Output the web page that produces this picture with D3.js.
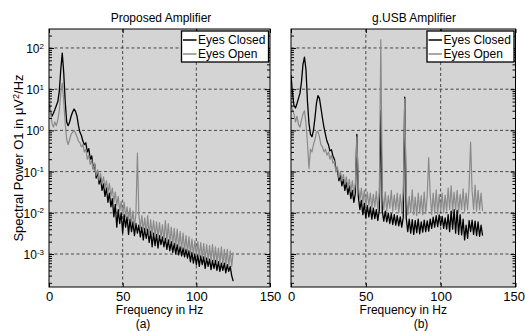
<!DOCTYPE html>
<html>
<head>
<meta charset="utf-8">
<script src="https://cdn.jsdelivr.net/npm/d3@7"></script>
<style>
html,body{margin:0;padding:0;background:#fff;}
svg{display:block;}
text{font-family:"Liberation Sans",Arial,Helvetica,sans-serif;fill:#000;}
</style>
</head>
<body>
<svg id="chart" width="525" height="331"></svg>
<script>
// ---------------- DATA ----------------
const seriesNames = ["Eyes Closed", "Eyes Open"];
const panelTitles = ["Proposed Amplifier", "g.USB Amplifier"];
const panelLetters = ["(a)", "(b)"];
const xTicks = [0, 50, 100, 150];
const yTicks = [1e-3, 1e-2, 1e-1, 1e0, 1e1, 1e2];
const yExponents = ["-3", "-2", "-1", "0", "1", "2"];
const freqStepHz = 1;

// Proposed amplifier, 0..125 Hz, 1 Hz bins (µV²/Hz)
const proposedClosed = [
 4.5,2.8,2.2,2.6,3.2,4,5,9,30,75,25,5,1.6,1.3,1.6,2.2,2.8,3.3,2.9,2.2,
 1.3,0.9,0.75,0.55,0.45,0.5,0.3,0.36,0.2,0.24,0.12,0.15,0.07,0.1,0.05,0.07,0.035,0.05,0.025,0.04,
 0.018,0.03,0.014,0.022,0.008,0.016,0.0045,0.012,0.0055,0.01,0.0032,0.009,0.0045,0.008,0.003,0.007,0.0035,0.006,0.0028,0.0055,
 0.0032,0.005,0.0026,0.0045,0.0022,0.0042,0.0024,0.004,0.0019,0.0036,0.0015,0.0032,0.0016,0.003,0.0014,0.0028,0.0017,0.0026,0.0015,0.0024,
 0.0013,0.0022,0.0012,0.002,0.0011,0.0018,0.001,0.0017,0.00095,0.0015,0.0009,0.0014,0.00085,0.0013,0.0008,0.0012,0.00065,0.0011,0.0006,0.001,
 0.00055,0.00095,0.0005,0.0009,0.00055,0.00085,0.00045,0.0008,0.0005,0.00075,0.00042,0.0007,0.00045,0.0007,0.0004,0.00065,0.00038,0.0006,0.0004,0.0006,
 0.00035,0.00055,0.00038,0.0005,0.0003,0.00022
];
const proposedOpen = [
 10,3,1.5,1.2,1.6,1.3,1.8,3,8,14,5,1.5,0.6,0.45,0.6,0.8,0.9,1.0,0.85,0.7,
 0.55,0.5,0.4,0.45,0.3,0.35,0.2,0.25,0.15,0.19,0.11,0.16,0.08,0.11,0.06,0.09,0.05,0.075,0.04,0.06,
 0.03,0.052,0.025,0.04,0.018,0.032,0.015,0.025,0.011,0.019,0.009,0.018,0.008,0.014,0.0065,0.013,0.0055,0.011,0.0045,0.0095,
 0.28,0.009,0.0042,0.0085,0.0038,0.0075,0.0032,0.0085,0.0028,0.0068,0.003,0.0065,0.0027,0.006,0.0025,0.0058,0.0024,0.0052,0.0021,0.0065,
 0.002,0.0055,0.0018,0.0045,0.0017,0.0042,0.0015,0.004,0.0014,0.0035,0.0013,0.0032,0.0012,0.0028,0.0011,0.0026,0.001,0.0023,0.00095,0.0021,
 0.0009,0.002,0.00085,0.0019,0.0008,0.0018,0.00075,0.0017,0.0007,0.0016,0.00068,0.0017,0.00062,0.0015,0.0006,0.0014,0.00058,0.0015,0.00055,0.0013,
 0.00052,0.0013,0.0005,0.0012,0.0005,0.0011
];

// g.USB amplifier, 0..128 Hz, 1 Hz bins (µV²/Hz)
const gusbClosed = [
 22,8,4,3.5,4.5,6,8,15,40,60,30,5,1.5,0.8,0.7,1.0,2.0,4.5,7,6,
 3.5,2,1.2,0.8,0.55,0.45,0.32,0.34,0.24,0.2,0.12,0.11,0.06,0.085,0.045,0.065,0.035,0.055,0.028,0.045,
 0.022,0.035,0.018,0.03,0.8,0.025,0.012,0.02,0.009,0.017,0.0075,0.015,0.008,0.014,0.007,0.013,0.0072,0.012,0.0065,0.012,
 3,0.011,0.0063,0.011,0.006,0.0098,0.0055,0.0095,0.0052,0.009,0.005,0.0085,0.0048,0.008,0.0045,0.0078,6.4,0.0075,0.0035,0.007,
 0.0032,0.0068,0.003,0.0065,0.0033,0.007,0.0031,0.006,0.0034,0.0066,0.0035,0.0064,0.0036,0.007,0.0042,0.0078,0.0045,0.0085,0.0046,0.0089,
 0.0048,0.0082,0.0042,0.0075,0.004,0.009,0.0035,0.011,0.004,0.012,0.0032,0.0115,0.003,0.009,0.0029,0.007,0.0022,0.005,0.0024,0.0065,
 0.0035,0.0066,0.003,0.0063,0.0028,0.006,0.0027,0.005,0.0028
];
const gusbOpen = [
 4.6,3,2.5,1.6,2.2,1.4,1.2,1.8,2.5,3,1.5,0.5,0.12,0.35,0.3,0.45,0.6,0.9,0.95,0.7,
 0.45,0.4,0.3,0.35,0.25,0.3,0.2,0.25,0.16,0.18,0.1,0.13,0.07,0.1,0.06,0.085,0.05,0.075,0.04,0.065,
 0.033,0.06,0.028,0.05,0.7,0.045,0.02,0.04,0.017,0.035,0.014,0.032,0.015,0.03,0.013,0.028,0.014,0.033,0.012,0.03,
 160,0.03,0.012,0.032,0.011,0.026,0.013,0.035,0.011,0.027,0.012,0.03,0.01,0.028,0.011,0.033,5.8,0.03,0.009,0.025,
 0.01,0.036,0.009,0.024,0.0085,0.03,0.01,0.026,0.009,0.032,0.0095,0.025,0.22,0.028,0.009,0.03,0.01,0.036,0.0095,0.028,
 0.011,0.03,0.01,0.027,0.011,0.04,0.012,0.045,0.011,0.032,0.012,0.035,0.01,0.028,0.012,0.038,0.011,0.03,0.012,0.042,
 0.52,0.035,0.012,0.047,0.011,0.035,0.012,0.03,0.011
];

// ---------------- DRAW ----------------
const svg = d3.select("#chart");
const plotTop = 29, plotBottom = 287;
const panels = [
  {x0: 49, x1: 270, closed: proposedClosed, open: proposedOpen, title: panelTitles[0], titleX: 161, letter: panelLetters[0], letterX: 143, yLabels: true},
  {x0: 291, x1: 515.5, closed: gusbClosed, open: gusbOpen, title: panelTitles[1], titleX: 414, letter: panelLetters[1], letterX: 421, yLabels: false}
];
const bgColor = "#d4d4d4";
const openColor = "#8a8a8a";

// y label
svg.append("text")
  .attr("transform", "translate(23," + ((plotTop + plotBottom) / 2) + ") rotate(-90)")
  .attr("text-anchor", "middle")
  .style("font-size", "13px")
  .call(t => {
    t.append("tspan").text("Spectral Power O1 in \u03bcV");
    t.append("tspan").attr("dy", -4.5).style("font-size", "9px").text("2");
    t.append("tspan").attr("dy", 4.5).text("/Hz");
  });

panels.forEach((p, i) => {
  const x = d3.scaleLinear().domain([0, 150]).range([p.x0, p.x1]);
  const y = d3.scaleLog().domain([Math.pow(10, -3.8), Math.pow(10, 2.46)]).range([plotBottom, plotTop]);
  const g = svg.append("g");
  const w = p.x1 - p.x0, h = plotBottom - plotTop;

  g.append("rect").attr("x", p.x0).attr("y", plotTop).attr("width", w).attr("height", h).attr("fill", bgColor);

  // grid
  const grid = g.append("g").attr("stroke", "#222").attr("stroke-width", 0.8).attr("stroke-dasharray", "3,2.5");
  [50, 100].forEach(v => grid.append("line").attr("x1", x(v)).attr("x2", x(v)).attr("y1", plotTop).attr("y2", plotBottom));
  yTicks.forEach(v => grid.append("line").attr("x1", p.x0).attr("x2", p.x1).attr("y1", y(v)).attr("y2", y(v)));

  const clipId = "clip" + i;
  svg.append("clipPath").attr("id", clipId).append("rect").attr("x", p.x0).attr("y", plotTop).attr("width", w).attr("height", h);

  const line = d3.line().x((d, k) => x(k * freqStepHz)).y(d => y(d));
  g.append("path").datum(p.closed).attr("d", line).attr("fill", "none").attr("stroke", "#000").attr("stroke-width", 1.3).attr("stroke-linejoin", "round").attr("clip-path", "url(#" + clipId + ")");
  g.append("path").datum(p.open).attr("d", line).attr("fill", "none").attr("stroke", openColor).attr("stroke-width", 1.2).attr("stroke-linejoin", "round").attr("clip-path", "url(#" + clipId + ")");

  // minor ticks for log axis
  const minor = [];
  for (let e = -4; e <= 2; e++) for (let m = 2; m <= 9; m++) { const v = m * Math.pow(10, e); if (v >= y.domain()[0] && v <= y.domain()[1]) minor.push(v); }

  // axes
  const ax = g.append("g").attr("transform", "translate(0," + plotBottom + ")")
    .call(d3.axisBottom(x).tickValues(xTicks).tickSize(-4).tickPadding(4.3).tickSizeOuter(0));
  ax.select(".domain").remove();
  ax.selectAll(".tick text").style("font-size", "13px").attr("font-family", null)
    .attr("dx", d => (i === 1 && d === 150) ? -1.8 : 0);
  g.append("g").attr("transform", "translate(0," + plotTop + ")")
    .call(d3.axisTop(x).tickValues(xTicks).tickSize(-4).tickFormat("").tickSizeOuter(0))
    .call(s => s.select(".domain").remove());

  const ay = g.append("g").attr("transform", "translate(" + p.x0 + ",0)")
    .call(d3.axisLeft(y).tickValues(yTicks).tickSize(-5).tickPadding(4).tickSizeOuter(0).tickFormat(""));
  ay.select(".domain").remove();
  if (p.yLabels) {
    ay.selectAll(".tick").each(function(d, k) {
      const t = d3.select(this).append("text").attr("x", -5).attr("dy", "0.38em").attr("text-anchor", "end").style("font-size", "12px");
      t.append("tspan").text("10");
      t.append("tspan").attr("dy", "-0.55em").style("font-size", "8px").text(yExponents[k]);
    });
  }
  g.append("g").attr("transform", "translate(" + p.x0 + ",0)")
    .call(d3.axisLeft(y).tickValues(minor).tickSize(-3).tickFormat("").tickSizeOuter(0))
    .call(s => s.select(".domain").remove());
  g.append("g").attr("transform", "translate(" + p.x1 + ",0)")
    .call(d3.axisRight(y).tickValues(yTicks).tickSize(-5).tickFormat("").tickSizeOuter(0))
    .call(s => s.select(".domain").remove());
  g.append("g").attr("transform", "translate(" + p.x1 + ",0)")
    .call(d3.axisRight(y).tickValues(minor).tickSize(-3).tickFormat("").tickSizeOuter(0))
    .call(s => s.select(".domain").remove());

  g.append("rect").attr("x", p.x0).attr("y", plotTop).attr("width", w).attr("height", h).attr("fill", "none").attr("stroke", "#000").attr("stroke-width", 1);

  // titles
  g.append("text").attr("x", p.titleX).attr("y", 22).attr("text-anchor", "middle").style("font-size", "12px").text(p.title);
  g.append("text").attr("x", (p.x0 + p.x1) / 2).attr("y", 313.5).attr("text-anchor", "middle").style("font-size", "12px").text("Frequency in Hz");
  g.append("text").attr("x", p.letterX).attr("y", 328).attr("text-anchor", "middle").style("font-size", "12px").text(p.letter);

  // legend
  const lx1 = p.x1 - 1.5, lx0 = lx1 - 87;
  const lg = g.append("g");
  lg.append("rect").attr("x", lx0).attr("y", 31).attr("width", 87).attr("height", 31).attr("fill", "#fff").attr("stroke", "#000").attr("stroke-width", 1.3);
  [["#000", seriesNames[0], 40], [openColor, seriesNames[1], 54]].forEach(([c, name, yy]) => {
    lg.append("line").attr("x1", lx0 + 1.5).attr("x2", lx0 + 15).attr("y1", yy).attr("y2", yy).attr("stroke", c).attr("stroke-width", 1.5);
    lg.append("text").attr("x", lx0 + 16.5).attr("y", yy + 4.3).style("font-size", "12px").text(name);
  });
});
</script>
</body>
</html>
